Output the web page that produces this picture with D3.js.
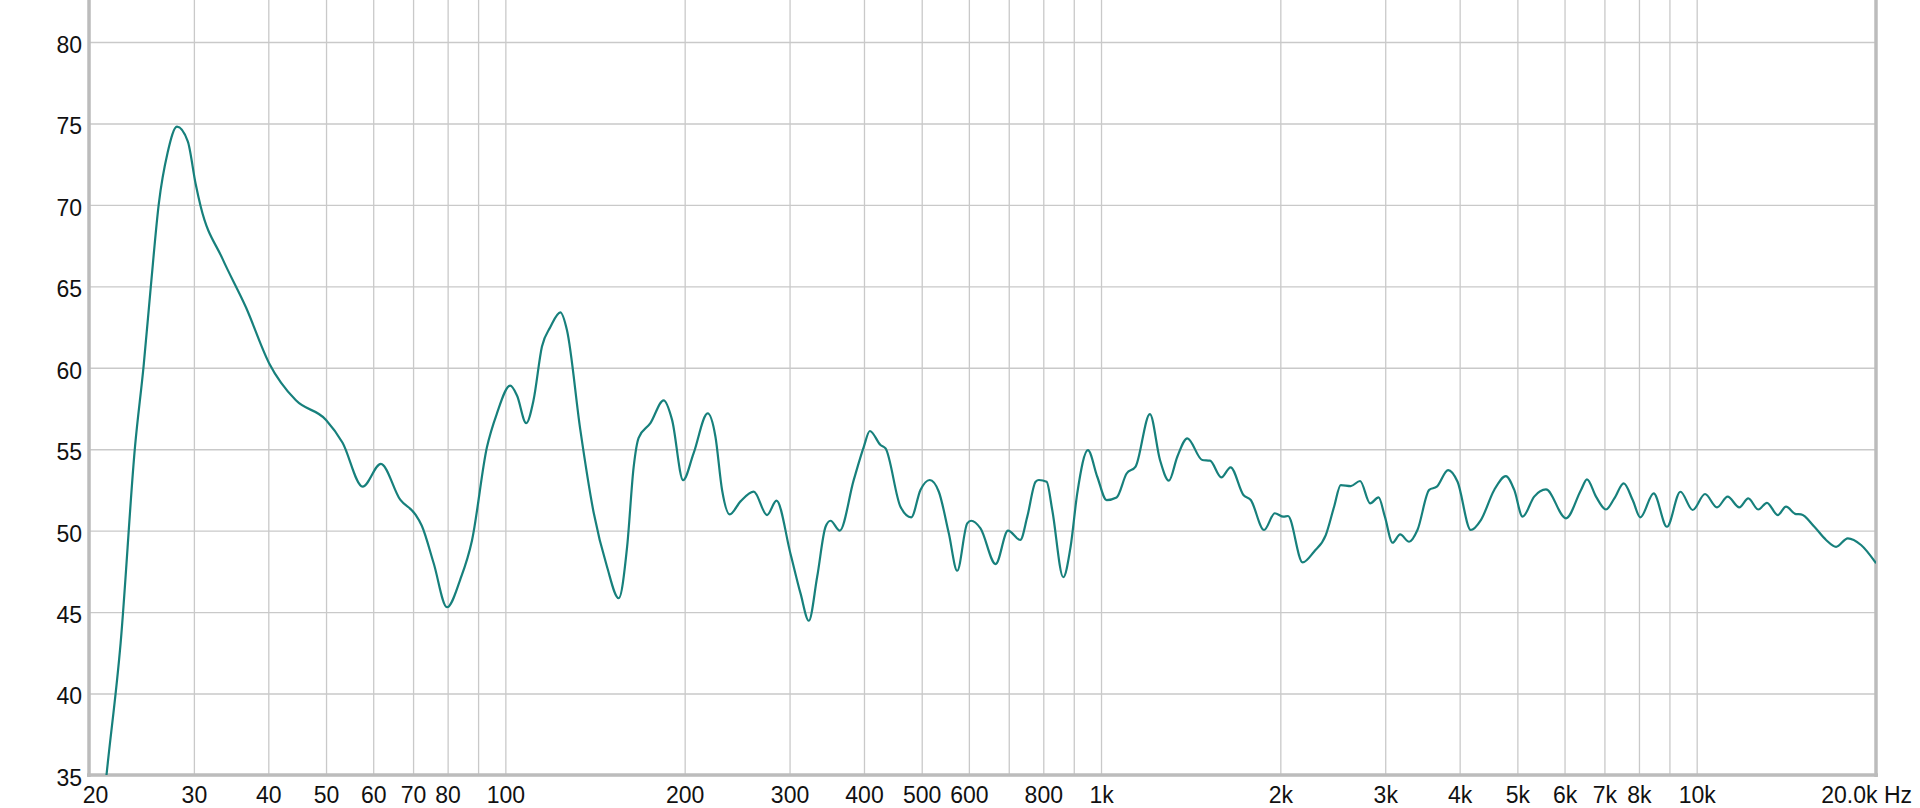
<!DOCTYPE html>
<html>
<head>
<meta charset="utf-8">
<script src="https://cdn.jsdelivr.net/npm/d3@7"></script>
<style>
  html, body { margin: 0; padding: 0; background: #ffffff; }
  svg { display: block; }
  text { font-family: "Liberation Sans", Arial, sans-serif; }
</style>
</head>
<body>
<script>
// ---- Data (frequency in Hz, level in dB) ----
const freqs = [
  20, 21.4, 22.6, 23.9, 24.7, 25.4, 26.2, 27.1, 28.1, 29.3, 30.2, 30.8, 33.5, 36.7, 40.1, 44.5,
  50, 53.3, 57.6, 61.8, 66.6, 70.6, 72.4, 75.8, 79.8, 84, 87.9, 93.1, 96.8, 101.9, 104.6, 108.4,
  111.5, 115.2, 119, 123.7, 126.9, 133.6, 140.7, 148.1, 155, 160.1, 164.2, 167.4, 175.2, 184.4,
  190.5, 198.8, 207, 218.6, 225.2, 231.1, 238, 248.2, 261.2, 275, 285.2, 301, 313, 323.2, 333.8,
  344.8, 351.4, 364.2, 384.4, 399.7, 409.2, 426.4, 434.8, 460.6, 480.2, 497.6, 515.8, 534.2,
  555.2, 573.6, 596.2, 605.4, 627.6, 665.4, 698, 732, 752, 776.6, 786.6, 810.4, 828.2, 864.2,
  889, 912.2, 950.6, 985.6, 1021.8, 1062, 1104, 1143, 1208, 1256, 1300, 1343, 1396, 1479, 1524,
  1592, 1650, 1734, 1784, 1878, 1958, 2024, 2060, 2180, 2278, 2384, 2462, 2526, 2626, 2722, 2830,
  2924, 2996, 3086, 3178, 3290, 3398, 3556, 3662, 3826, 3968, 4176, 4342, 4572, 4782, 4940, 5102,
  5336, 5584, 6034, 6394, 6544, 6776, 7042, 7274, 7542, 7808, 8042, 8468, 8914, 9390, 9848,
  10328, 10816, 11272, 11790, 12208, 12688, 13122, 13678, 14124, 14682, 14968, 15760, 16490,
  17140, 17934, 18878, 20000
];
const levels = [
  24, 35, 43.1, 55.2, 60.1, 65.0, 70.1, 73.2, 74.8, 73.9, 71.3, 69.9, 66.7, 63.7, 60.3, 58.0,
  56.8, 55.4, 52.7, 54.1, 51.9, 51.0, 50.3, 48.0, 45.3, 47.0, 49.4, 55.1, 57.2, 58.9, 58.3, 56.6,
  58.0, 61.3, 62.5, 63.4, 62.3, 56.2, 51.1, 47.8, 45.85, 49.0, 53.9, 55.7, 56.6, 58.0,
  56.8, 53.1, 54.75, 57.2, 55.8, 52.5, 51.0, 51.8, 52.4, 50.96, 51.84, 48.6, 46.15, 44.47, 47.17,
  50.24, 50.61, 50.0, 53.1, 55.15, 56.12, 55.26, 55.05, 51.47, 50.82, 52.5, 53.11, 52.39,
  49.84, 47.54, 50.45, 50.61, 50.14, 47.95, 50.0, 49.43, 50.86, 53.0, 53.11, 53.0, 51.27, 47.14,
  49.01, 52.29, 54.95, 53.31, 51.88, 52.04, 53.51, 53.93, 57.16, 54.34, 53.07, 54.54, 55.67, 54.34, 54.3,
  53.27, 53.89, 52.19, 51.88, 50.04, 51.07, 50.86, 50.9, 48.05, 48.71, 49.73, 51.47, 52.8, 52.74, 53.05, 51.68,
  52.04, 50.86, 49.26, 49.77, 49.32, 50.04, 52.5, 52.7, 53.72, 53.0, 50.04, 50.65, 52.5, 53.35, 52.5, 50.86,
  52.09, 52.53, 50.76, 52.5, 53.15, 52.09, 51.3, 51.98, 52.9, 51.88, 50.82, 52.29, 50.24, 52.39, 51.27,
  52.25, 51.43, 52.09, 51.43, 51.98, 51.3, 51.71, 50.96, 51.47, 51.02, 51.0, 50.24, 49.43,
  49.01, 49.53, 49.12, 48.0
];

// Ticks
const yTicks = [35, 40, 45, 50, 55, 60, 65, 70, 75, 80];
const xGrid = [20, 30, 40, 50, 60, 70, 80, 90, 100, 200, 300, 400, 500, 600, 700, 800, 900,
               1000, 2000, 3000, 4000, 5000, 6000, 7000, 8000, 9000, 10000];
const xLabels = [20, 30, 40, 50, 60, 70, 80, 100, 200, 300, 400, 500, 600, 800,
                 1000, 2000, 3000, 4000, 5000, 6000, 7000, 8000, 10000];
const xEndLabel = "20.0k Hz";

// ---- Layout ----
const W = 1920, H = 808;
const left = 89, right = 1876, bottom = 775;

const x = d3.scaleLog().domain([20, 20000]).range([left, right]);
const y = d3.scaleLinear().domain([35, 80]).range([bottom, 42]);

const svg = d3.select("body").append("svg").attr("width", W).attr("height", H);

// Clip
svg.append("clipPath").attr("id", "plotclip")
  .append("rect").attr("x", left).attr("y", 0).attr("width", right - left).attr("height", bottom);

// Grid: horizontal
const gy = svg.append("g").attr("transform", `translate(${left},0)`)
  .call(d3.axisLeft(y).tickValues(yTicks).tickSize(-(right - left)).tickFormat(""));
gy.select(".domain").remove();
gy.selectAll(".tick line").attr("stroke", "#c9c9c9").attr("stroke-width", 1.4);

// Grid: vertical
const gx = svg.append("g").attr("transform", `translate(0,${bottom})`)
  .call(d3.axisBottom(x).tickValues(xGrid).tickSize(-bottom).tickFormat(""));
gx.select(".domain").remove();
gx.selectAll(".tick line").attr("stroke", "#c9c9c9").attr("stroke-width", 1.3);

// Frame
const frameColor = "#bcbcbc";
svg.append("line").attr("x1", left).attr("x2", left).attr("y1", 0).attr("y2", bottom + 2)
  .attr("stroke", frameColor).attr("stroke-width", 3.5);
svg.append("line").attr("x1", right).attr("x2", right).attr("y1", 0).attr("y2", bottom + 2)
  .attr("stroke", frameColor).attr("stroke-width", 3.5);
svg.append("line").attr("x1", left - 2).attr("x2", right + 2).attr("y1", bottom).attr("y2", bottom)
  .attr("stroke", frameColor).attr("stroke-width", 3.5);

// Y labels
const yl = svg.append("g").attr("transform", `translate(${left},0)`)
  .call(d3.axisLeft(y).tickValues(yTicks).tickSize(0).tickPadding(7).tickFormat(d3.format("d")));
yl.select(".domain").remove();
yl.selectAll("text")
  .attr("dy", "0.45em")
  .attr("font-size", 23).attr("fill", "#111")
  .style("font-family", '"Liberation Sans", Arial, sans-serif');

// X labels
const fmt = d => d < 1000 ? String(d) : (d / 1000) + "k";
const xl = svg.append("g").attr("transform", `translate(0,${bottom})`)
  .call(d3.axisBottom(x).tickValues(xLabels).tickSize(0).tickPadding(0).tickFormat(fmt));
xl.select(".domain").remove();
xl.selectAll("text")
  .attr("y", 28).attr("dy", null)
  .attr("dx", d => d === 20 ? 6 : 0)
  .attr("font-size", 23).attr("fill", "#111")
  .style("font-family", '"Liberation Sans", Arial, sans-serif');

svg.append("text")
  .attr("x", x(20000) + 36).attr("y", bottom + 28)
  .attr("text-anchor", "end")
  .attr("font-size", 23).attr("fill", "#111")
  .text(xEndLabel);

// Curve
const pts = freqs.map((f, i) => [f, levels[i]]);
const line = d3.line()
  .x(d => x(d[0]))
  .y(d => y(d[1]))
  .curve(d3.curveMonotoneX);

svg.append("path")
  .attr("clip-path", "url(#plotclip)")
  .attr("d", line(pts))
  .attr("fill", "none")
  .attr("stroke", "#17807c")
  .attr("stroke-width", 2.2)
  .attr("stroke-linejoin", "round");
</script>
</body>
</html>
